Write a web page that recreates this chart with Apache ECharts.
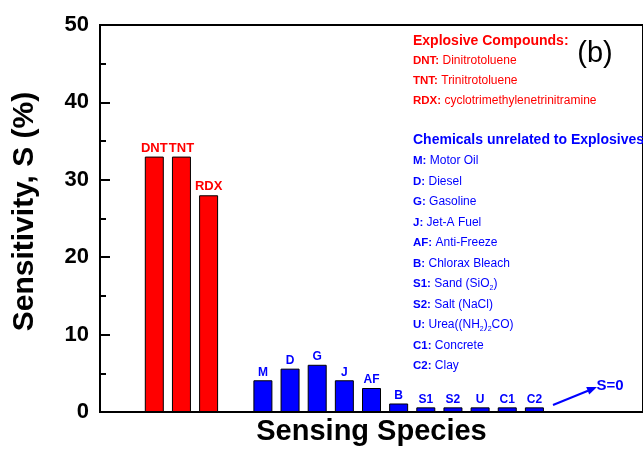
<!DOCTYPE html>
<html>
<head>
<meta charset="utf-8">
<script src="https://cdn.jsdelivr.net/npm/echarts@6/dist/echarts.min.js"></script>
<style>html,body{margin:0;padding:0;background:#fff}#c{width:643px;height:456px}</style>
</head>
<body>
<div id="c"></div>
<script>
// ---- data ----
var explosiveCats = ['DNT', 'TNT', 'RDX'];
var explosiveVals = [33, 33, 28];
var otherCats = ['M', 'D', 'G', 'J', 'AF', 'B', 'S1', 'S2', 'U', 'C1', 'C2'];
var otherVals = [4.1, 5.6, 6.1, 4.1, 3.1, 1.1, 0.6, 0.6, 0.6, 0.6, 0.6];
var yTicks = [0, 10, 20, 30, 40, 50];
var explosiveTitle = 'Explosive Compounds:';
var explosiveKeys = ['DNT:', 'TNT:', 'RDX:'];
var explosiveDesc = ['Dinitrotoluene', 'Trinitrotoluene', 'cyclotrimethylenetrinitramine'];
var otherTitle = 'Chemicals unrelated to Explosives';
var otherKeys = ['M:', 'D:', 'G:', 'J:', 'AF:', 'B:', 'S1:', 'S2:', 'U:', 'C1:', 'C2:'];
var otherDesc = ['Motor Oil', 'Diesel', 'Gasoline', 'Jet-A Fuel', 'Anti-Freeze', 'Chlorax Bleach',
  'Sand (SiO_2)', 'Salt (NaCl)', 'Urea((NH_2)_2CO)', 'Concrete', 'Clay'];
var panelLabel = '(b)';
var zeroNote = 'S=0';

// ---- build axis categories (blank slots for spacing) ----
var axisCats = ['', ''].concat(explosiveCats, [''], otherCats, ['', '', '', '']);
var redData = axisCats.map(function () { return '-'; });
var blueData = axisCats.map(function () { return '-'; });
explosiveCats.forEach(function (c, i) { redData[axisCats.indexOf(c)] = explosiveVals[i]; });
otherCats.forEach(function (c, i) { blueData[axisCats.indexOf(c)] = otherVals[i]; });

var RED = '#ff0000', BLUE = '#0000ff';
var FF = '"Liberation Sans", Arial, sans-serif';

function richDesc(s) {
  // "_x" marks a subscript character
  return '{v|' + s.replace(/_(.)/g, '}{sub|$1}{v|') + '}';
}

var graphics = [];
function addLine(x, y, key, desc, color) {
  graphics.push({
    type: 'text', x: x, y: y,
    style: {
      text: '{k|' + key + '}{v| }' + richDesc(desc),
      verticalAlign: 'middle',
      rich: {
        k: { fontFamily: FF, fontWeight: 'bold', fontSize: 11.5, fill: color },
        v: { fontFamily: FF, fontSize: 12, fill: color },
        sub: { fontFamily: FF, fontSize: 7, fill: color, padding: [9, 0, 0, 0] }
      }
    }
  });
}
var tx = 413;
graphics.push({ type: 'text', x: tx, y: 41, style: { text: explosiveTitle, fontFamily: FF, fontWeight: 'bold', fontSize: 14, fill: RED, verticalAlign: 'middle' } });
explosiveKeys.forEach(function (k, i) { addLine(tx, 61 + i * 19.7, k, explosiveDesc[i], RED); });
graphics.push({ type: 'text', x: tx, y: 140, style: { text: otherTitle, fontFamily: FF, fontWeight: 'bold', fontSize: 14, fill: BLUE, verticalAlign: 'middle' } });
otherKeys.forEach(function (k, i) { addLine(tx, 161 + i * 20.5, k, otherDesc[i], BLUE); });
graphics.push({ type: 'text', x: 595, y: 54, style: { text: panelLabel, fontFamily: FF, fontSize: 29, fill: '#000', align: 'center', verticalAlign: 'middle' } });
graphics.push({ type: 'text', x: 610, y: 386, style: { text: zeroNote, fontFamily: FF, fontWeight: 'bold', fontSize: 15, fill: BLUE, align: 'center', verticalAlign: 'middle' } });
// arrow
graphics.push({ type: 'line', shape: { x1: 553, y1: 405, x2: 588, y2: 390.8 }, style: { stroke: BLUE, lineWidth: 2 } });
graphics.push({ type: 'polygon', shape: { points: [[597, 387], [589.2, 394.5], [586.2, 387.0]] }, style: { fill: BLUE } });

var chart = echarts.init(document.getElementById('c'), null, { renderer: 'canvas' });
chart.setOption({
  animation: false,
  backgroundColor: '#fff',
  grid: { left: 100, top: 25, right: -3, bottom: 44, show: true, borderColor: '#000', borderWidth: 2 },
  xAxis: {
    type: 'category', data: axisCats, boundaryGap: false,
    name: 'Sensing Species', nameLocation: 'middle', nameGap: 5,
    nameTextStyle: { fontFamily: FF, fontWeight: 'bold', fontSize: 29, color: '#000', verticalAlign: 'top' },
    axisLine: { lineStyle: { color: '#000', width: 2 } },
    axisTick: { show: false }, axisLabel: { show: false }, splitLine: { show: false }
  },
  yAxis: {
    type: 'value', min: 0, max: 50, interval: 10,
    name: 'Sensitivity, S (%)', nameLocation: 'middle', nameGap: 60,
    nameTextStyle: { fontFamily: FF, fontWeight: 'bold', fontSize: 30, color: '#000', padding: [0, 0, 0, 14] },
    axisLine: { show: true, lineStyle: { color: '#000', width: 2 } },
    axisTick: { show: true, inside: true, length: 10, lineStyle: { color: '#000', width: 2 } },
    minorTick: { show: true, splitNumber: 2, length: 6, lineStyle: { color: '#000', width: 2 } },
    axisLabel: { margin: 11, fontFamily: FF, fontWeight: 'bold', fontSize: 22, color: '#000',
      formatter: function (v) { return yTicks.indexOf(v) >= 0 ? String(v) : ''; } },
    splitLine: { show: false }, minorSplitLine: { show: false }
  },
  series: [
    { type: 'bar', data: redData, barWidth: 19, barGap: '-100%',
      itemStyle: { color: RED, borderColor: '#000', borderWidth: 1 },
      label: { show: true, position: 'top', distance: 2, fontFamily: FF, fontWeight: 'bold', fontSize: 13, color: RED,
        formatter: function (p) { return axisCats[p.dataIndex]; } } },
    { type: 'bar', data: blueData, barWidth: 19, barGap: '-100%',
      itemStyle: { color: BLUE, borderColor: '#000', borderWidth: 1 },
      label: { show: true, position: 'top', distance: 2, fontFamily: FF, fontWeight: 'bold', fontSize: 12, color: BLUE,
        formatter: function (p) { return axisCats[p.dataIndex]; } } }
  ],
  graphic: graphics
});
</script>
</body>
</html>
